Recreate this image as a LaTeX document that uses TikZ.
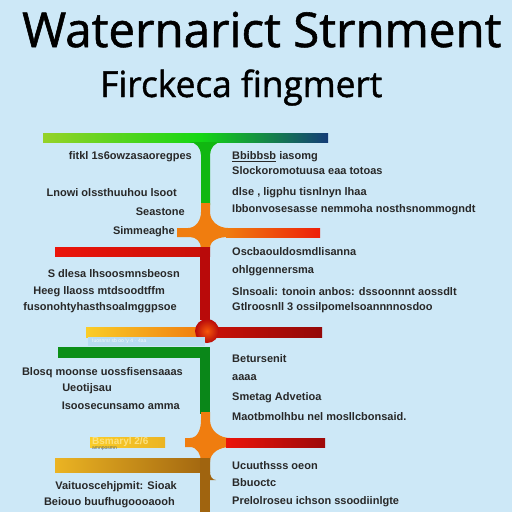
\documentclass[tikz,border=0pt]{standalone}
\usepackage{fontspec}
\setmainfont{Liberation Sans}
\newfontfamily\headfont[FakeBold=1.2]{Open Sans}
\usepackage{graphicx}
\definecolor{sky}{RGB}{205,232,247}
\definecolor{ink}{RGB}{40,40,40}
\definecolor{lime}{RGB}{150,210,40}
\definecolor{leaf}{RGB}{20,215,20}
\definecolor{navy}{RGB}{20,60,120}
\definecolor{tangerine}{RGB}{240,125,15}
\definecolor{scarlet}{RGB}{235,20,10}
\definecolor{blood}{RGB}{185,10,10}
\definecolor{sun}{RGB}{250,205,40}
\definecolor{forest}{RGB}{10,135,25}
\definecolor{gold}{RGB}{235,180,35}
\definecolor{bronze}{RGB}{160,100,15}
\definecolor{haze}{RGB}{185,220,242}

\begin{document}
\begin{tikzpicture}[x=1pt,y=-1pt,
    lt/.style={anchor=east,font=\fontsize{11}{11}\selectfont\bfseries,text=ink,inner sep=0pt},
    rt/.style={anchor=west,font=\fontsize{11}{11}\selectfont\bfseries,text=ink,inner sep=0pt}]
    \fill[sky] (0,0) rectangle (512,512);
    \useasboundingbox (0,0) rectangle (512,512);

    \node[anchor=base west,inner sep=0pt,font=\headfont\fontsize{48}{48}\selectfont] (T) at (22,47) {\scalebox{0.99}[1]{Waternarict Strnment}};
    \node[anchor=base west,inner sep=0pt,font=\headfont\fontsize{36}{36}\selectfont] (S) at (100,97) {\scalebox{0.98}[1]{Firckeca fingmert}};

    \shade[left color=lime,right color=leaf] (43,133) rectangle (200,142);
    \shade[left color=leaf,right color=navy] (200,133) rectangle (328,142);
    \fill[leaf!85!black] (189,142) to[out=0,in=90] (201,155) -- (201,205) -- (210,205) -- (210,155) to[out=90,in=180] (222,142) -- cycle;

    \fill[tangerine] (201,203) -- (210,203) -- (210,212) to[out=-90,in=180] (228,228) -- (228,237) to[out=180,in=90] (210,248) -- (201,248) to[out=90,in=0] (190,237) -- (177,237) -- (177,228) -- (188,228) to[out=0,in=-90] (201,212) -- cycle;
    \shade[left color=tangerine,right color=scarlet!90!orange] (226,228) rectangle (320,237);

    \shade[left color=scarlet,right color=scarlet!85!black] (55,247) rectangle (210,256);
    \fill[blood] (200,247) rectangle (210,320);

    \shade[left color=sun,right color=tangerine] (86,327) rectangle (200,337);
    \shade[left color=scarlet!85!black,right color=blood!80!black] (212,327) rectangle (322,337);
    \shade[inner color=tangerine!70!red,outer color=blood] (207,331) circle (12);
    \fill[haze] (88,337) rectangle (205,346);
    \node[anchor=west,inner sep=0pt,font=\fontsize{5}{5}\selectfont,text=white!80!sky] (F1) at (92,341.5) {Iuosnrsr sb oo 'y 4 $\cdot$ 4aa};

    \fill[forest!90!leaf] (58,347) rectangle (210,358);
    \fill[forest] (200,347) rectangle (210,414);

    \fill[tangerine] (201,412) -- (210,412) -- (210,420) to[out=-90,in=180] (230,438) -- (230,447) to[out=180,in=90] (210,462) -- (201,462) to[out=90,in=0] (190,447) -- (185,447) -- (185,438) -- (190,438) to[out=0,in=-90] (201,420) -- cycle;
    \shade[left color=scarlet,right color=blood!85!black] (226,438) rectangle (325,447);
    \shade[left color=sun,right color=gold] (90,437) rectangle (165,447);
    \node[anchor=west,inner sep=0pt,font=\fontsize{10}{10}\selectfont\bfseries,text=sun!60!white] (Y) at (92,442) {Bsmaryl 2/6};
    \node[anchor=west,inner sep=0pt,font=\fontsize{5}{5}\selectfont,text=ink!70!sky] (F2) at (92,449) {amnposmn};

    \shade[left color=gold,right color=bronze] (55,458) rectangle (210,472);
    \fill[bronze] (200,458) rectangle (210,512);
    \fill[bronze] (210,472) to[out=-90,in=180] (216,480) -- (210,480) -- cycle;

    \node[lt] (L1) at (192,157) {fitkl 1s6owzasaoregpes};
    \node[lt] (L2) at (177,193) {Lnowi olssthuuhou lsoot};
    \node[lt] (L3) at (185,212) {Seastone};
    \node[lt] (L4) at (175,232) {Simmeaghe};
    \node[lt] (L5) at (180,274) {S dlesa lhsoosmnsbeosn};
    \node[lt] (L6) at (165,292) {Heeg llaoss mtdsoodtffm};
    \node[lt] (L7) at (177,308) {fusonohtyhasthsoalmggpsoe};
    \node[lt] (L8) at (183,373) {Blosq moonse uossfisensaaas};
    \node[lt] (L9) at (112,389) {Ueotijsau};
    \node[lt] (L10) at (180,406) {Isoosecunsamo amma};
    \node[lt] (L11) at (177,487) {Vaituoscehjpmit: Sioak};
    \node[lt] (L12) at (175,503) {Beiouo buufhugoooaooh};

    \node[rt] (R1) at (232,157) {\underline{Bbibbsb} iasomg};
    \node[rt] (R2) at (232,171) {Slockoromotuusa eaa totoas};
    \node[rt] (R3) at (232,193) {dlse , ligphu tisnlnyn lhaa};
    \node[rt] (R4) at (232,210) {Ibbonvosesasse nemmoha nosthsnommogndt};
    \node[rt] (R5) at (232,252) {Oscbaouldosmdlisanna};
    \node[rt] (R6) at (232,271) {ohlggennersma};
    \node[rt] (R7) at (232,292) {Slnsoali: tonoin anbos: dssoonnnt aossdlt};
    \node[rt] (R8) at (232,308) {Gtlroosnll 3 ossilpomelsoannnnosdoo};
    \node[rt] (R9) at (232,359) {Betursenit};
    \node[rt] (R10) at (232,378) {aaaa};
    \node[rt] (R11) at (232,398) {Smetag Advetioa};
    \node[rt] (R12) at (232,417) {Maotbmolhbu nel mosllcbonsaid.};
    \node[rt] (R13) at (232,466) {Ucuuthsss oeon};
    \node[rt] (R14) at (232,483) {Bbuoctc};
    \node[rt] (R15) at (232,502) {Prelolroseu ichson ssoodiinlgte};
\end{tikzpicture}
\end{document}
